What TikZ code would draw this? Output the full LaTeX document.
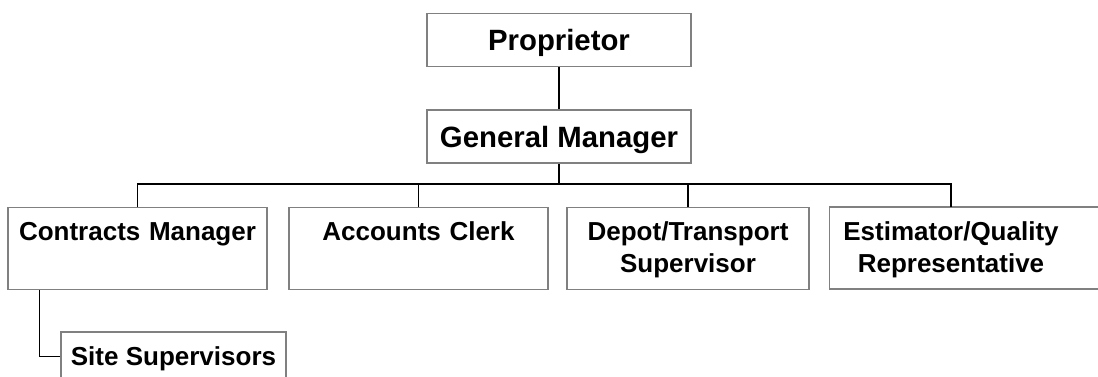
\documentclass[tikz,border=0pt]{standalone}
\usepackage{fontspec}
\setmainfont{Liberation Sans}
\usetikzlibrary{calc}
\definecolor{boxgray}{RGB}{128,128,128}

\begin{document}
\begin{tikzpicture}[x=0.75pt,y=-0.75pt,
    head/.style={draw=boxgray,line width=1.1pt,minimum width=198pt,minimum height=40pt,
        inner sep=0pt,text height=15.75pt,text depth=0pt,font=\bfseries\fontsize{22}{26}\selectfont},
    staff/.style={draw=boxgray,line width=1.1pt,anchor=north,align=center,inner sep=0pt,
        text height=24.75pt,text depth=36.75pt,font=\bfseries\fontsize{19.5}{24}\selectfont},
    link/.style={draw=black,line width=1pt}]
    \useasboundingbox (0,0) rectangle (1098,376);
    \clip (0,0) rectangle (1098,376);

    \node[head] (prop) at (559,40) {Proprietor};
    \node[head] (gm) at (559,136.5) {General Manager};

    \node[staff,text width=194.25pt] (cm) at (137.5,207) {Contracts Manager};
    \node[staff,text width=194.25pt] (ac) at (418.5,207) {Accounts Clerk};
    \node[staff,text width=181.5pt] (dp) at (688,207) {Depot/Transport\\Supervisor};
    \node[staff,text width=181.5pt,draw=none] (est) at (951,207) {Estimator/Quality\\Representative};
    \draw[boxgray,line width=1.1pt] (est.north west) rectangle ++(270,82);

    \node[head,minimum width=168.75pt,minimum height=36.75pt,text height=14pt,
        font=\bfseries\fontsize{19.5}{24}\selectfont] (ss) at (173.5,356.5) {Site Supervisors};

    % reporting lines
    \coordinate (bus) at (0,184);
    \draw[link] (prop) -- (gm);
    \draw[link] (gm.south) -- (gm.south |- bus);
    \draw[link] (cm.north) |- (bus -| est.north) -- (est.north);
    \foreach \n in {ac,dp}
        \draw[link] (\n.north) -- (\n.north |- bus);
    \draw[link] (cm.south west) ++(32,0) |- (ss.west);
\end{tikzpicture}
\end{document}
